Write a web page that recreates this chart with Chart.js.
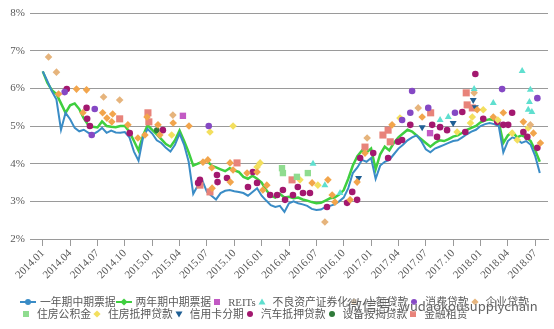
<!DOCTYPE html>
<html>
<head>
<meta charset="utf-8">
<script src="https://cdn.jsdelivr.net/npm/chart.js@4.4.1/dist/chart.umd.min.js"></script>
<style>
  html, body { margin: 0; padding: 0; background: #fff; }
  #wrap { position: relative; width: 554px; height: 329px; overflow: hidden; }
  #c { position: absolute; left: 0; top: 0; }
  #legend {
    position: absolute; left: 20px; top: 296px; width: 522px;
    display: flex; flex-wrap: wrap;
    font: 10.8px "Liberation Serif", "Noto Sans CJK SC", serif; color: #595959;
  }
  .item { display: flex; align-items: center; height: 12px; white-space: nowrap; }
  .item svg { flex: none; display: block; }
  .item span { margin-left: 5px; line-height: 12px; }
  #mark {
    position: absolute; left: 347px; top: 294px; white-space: nowrap;
    font: 15px "Noto Sans CJK SC", sans-serif; color: rgba(70, 70, 70, 0.85);
    text-shadow: 0 0 2px #fff, 0 0 2px #fff;
  }
  #mark .id { font-size: 13px; }
</style>
</head>
<body>
<div id="wrap">
  <canvas id="c" width="554" height="329"></canvas>
  <div id="legend"></div>
  <div id="mark">微信号: <span class="id">wudaokousupplychain</span></div>
</div>
<script>
// ---- axis ticks (quarterly) ----
const tickMonths = [0, 3, 6, 9, 12, 15, 18, 21, 24, 27, 30, 33, 36, 39, 42, 45, 48, 51, 54];
const tickLabels = ['2014.01', '2014.04', '2014.07', '2014.10', '2015.01', '2015.04', '2015.07', '2015.10',
  '2016.01', '2016.04', '2016.07', '2016.10', '2017.01', '2017.04', '2017.07', '2017.10',
  '2018.01', '2018.04', '2018.07'];

// ---- medium-term note yields, semi-monthly (1st and 16th), Jan 2014 - Jul 2018, % ----
const mtn1y = [
  6.45, 6.20, 5.92, 5.70, 4.90, 5.35, 5.18, 4.95, 4.86, 4.90,
  4.82, 4.78, 4.85, 4.95, 4.82, 4.88, 4.83, 4.82, 4.84, 4.70,
  4.32, 4.08, 4.70, 4.92, 4.80, 4.62, 4.55, 4.42, 4.32, 4.50,
  4.80, 4.50, 4.05, 3.20, 3.42, 3.55, 3.25, 3.15, 3.05, 3.22,
  3.28, 3.30, 3.27, 3.25, 3.22, 3.15, 3.25, 3.35, 3.15, 3.02,
  2.90, 2.85, 2.88, 2.72, 2.95, 3.00, 2.95, 2.92, 2.88, 2.80,
  2.77, 2.78, 2.85, 2.88, 2.92, 3.00, 3.10, 3.35, 3.75, 3.90,
  4.10, 4.05, 4.15, 3.60, 3.95, 4.05, 4.10, 4.25, 4.40, 4.50,
  4.62, 4.70, 4.75, 4.60, 4.38, 4.30, 4.40, 4.45, 4.50, 4.55,
  4.60, 4.62, 4.70, 4.78, 4.85, 4.90, 5.00, 5.05, 5.08, 5.05,
  5.00, 4.30, 4.60, 4.70, 4.65, 4.55, 4.60, 4.50, 4.20, 3.75
];
const mtn2y = [
  6.45, 6.15, 5.95, 5.85, 5.60, 5.35, 5.55, 5.60, 5.45, 5.20,
  5.02, 4.98, 4.96, 5.12, 5.00, 4.98, 4.97, 5.00, 5.00, 4.85,
  4.60, 4.35, 4.75, 5.02, 4.90, 4.78, 4.65, 4.52, 4.45, 4.62,
  4.88, 4.60, 4.30, 3.95, 4.00, 4.05, 4.08, 3.95, 3.90, 3.85,
  3.80, 3.88, 3.82, 3.78, 3.65, 3.60, 3.68, 3.60, 3.50, 3.30,
  3.15, 3.10, 3.20, 3.10, 3.12, 3.08, 3.10, 3.05, 3.02, 2.98,
  2.95, 2.96, 3.02, 3.08, 3.10, 3.18, 3.30, 3.60, 3.95, 4.20,
  4.35, 4.30, 4.40, 3.85, 4.25, 4.45, 4.35, 4.55, 4.70, 4.80,
  4.90, 4.85, 4.75, 4.65, 4.55, 4.45, 4.55, 4.62, 4.60, 4.65,
  4.72, 4.75, 4.82, 4.90, 4.95, 5.00, 5.10, 5.15, 5.18, 5.15,
  5.10, 4.55, 4.75, 4.85, 4.70, 4.75, 4.70, 4.60, 4.35, 4.05
];

// ---- ABS issue rates by asset class: issue dates and coupon, % ----
const reitsDates = ['2015-04-12', '2017-07-15'];
const reitsValues = [5.27, 4.81];

const nplDates = ['2016-06-20', '2016-07-29', '2016-09-19', '2017-08-18', '2017-09-15', '2017-12-10',
  '2018-02-13', '2018-05-18', '2018-06-08', '2018-06-12', '2018-06-15', '2018-06-20'];
const nplValues = [4.00, 3.43, 3.22, 5.16, 5.24, 5.98, 5.61, 6.46, 5.43, 5.64, 5.96, 5.37];

const microDates = ['2014-02-23', '2014-04-22', '2014-05-13', '2014-05-25', '2014-07-18', '2014-08-02',
  '2014-08-18', '2014-08-21', '2014-10-11', '2014-11-14', '2014-12-07', '2014-12-14', '2015-01-20',
  '2015-01-26', '2015-03-10', '2015-05-02', '2015-06-18', '2015-07-04', '2015-07-17', '2015-07-18',
  '2015-09-17', '2015-09-18', '2015-09-27', '2015-11-13', '2015-12-16', '2016-01-05', '2016-01-18',
  '2016-06-17', '2016-08-09', '2016-08-23', '2016-09-02', '2016-10-22', '2016-11-15', '2016-12-11',
  '2017-03-10', '2017-06-19', '2017-12-20', '2018-02-13', '2018-03-16', '2018-05-22', '2018-06-25',
  '2018-07-18'];
const microValues = [5.85, 5.98, 5.35, 5.96, 5.35, 5.21, 5.11, 5.32, 5.03, 4.68, 4.76, 5.24, 5.03,
  4.76, 5.08, 5.00, 4.04, 4.10, 3.89, 3.35, 4.02, 3.51, 3.83, 3.75, 3.78, 3.30, 3.43, 3.49, 3.57,
  3.17, 2.98, 3.04, 3.51, 4.28, 5.03, 5.24, 5.43, 5.24, 5.35, 5.11, 4.81, 4.55];

const consumerDates = ['2014-03-13', '2014-06-12', '2014-06-22', '2015-07-07', '2017-04-13', '2017-05-10',
  '2017-05-16', '2017-07-09', '2017-10-07', '2018-03-12', '2018-07-08'];
const consumerValues = [5.90, 4.76, 5.45, 5.00, 5.16, 5.35, 5.93, 5.48, 5.35, 5.98, 5.74];

const corpDates = ['2014-01-20', '2014-02-16', '2014-07-21', '2014-09-14', '2015-03-09', '2016-07-29',
  '2016-12-18', '2017-06-06', '2017-12-10', '2018-06-15'];
const corpValues = [6.83, 6.43, 5.77, 5.69, 5.29, 2.45, 4.68, 5.48, 5.88, 5.03];

const hpfDates = ['2016-03-08', '2016-03-11', '2016-04-27', '2016-06-03'];
const hpfValues = [3.88, 3.75, 3.65, 3.75];

const rmbsDates = ['2015-03-05', '2015-07-11', '2015-09-27', '2015-12-16', '2015-12-26', '2016-05-07',
  '2016-07-06', '2017-04-06', '2017-10-14', '2017-11-28', '2017-12-04', '2018-01-10', '2018-02-28',
  '2018-04-15', '2018-05-02', '2018-06-08'];
const rmbsValues = [4.76, 4.84, 5.00, 3.91, 4.02, 3.57, 3.43, 5.21, 4.84, 5.08, 5.24, 5.43, 5.16,
  4.81, 4.63, 4.95];

const cardDates = ['2016-11-20', '2017-06-19', '2017-10-01', '2017-12-07', '2017-12-14'];
const cardValues = [3.62, 4.97, 5.08, 5.69, 5.50];

const autoDates = ['2014-03-20', '2014-05-25', '2014-05-27', '2014-06-06', '2014-10-17', '2015-02-06',
  '2015-06-02', '2015-06-08', '2015-08-04', '2015-08-06', '2015-09-07', '2015-11-16', '2015-12-02',
  '2015-12-16', '2016-01-29', '2016-02-22', '2016-03-11', '2016-03-18', '2016-04-14', '2016-04-30',
  '2016-05-17', '2016-06-10', '2016-08-06', '2016-10-12', '2016-10-29', '2016-11-15', '2016-11-25',
  '2017-01-08', '2017-02-27', '2017-03-30', '2017-04-13', '2017-05-10', '2017-07-22', '2017-08-08',
  '2017-08-18', '2017-09-11', '2017-11-01', '2017-11-11', '2017-12-14', '2018-01-10', '2018-02-26',
  '2018-03-16', '2018-04-02', '2018-04-15', '2018-05-22', '2018-06-05', '2018-07-08'];
const autoValues = [5.98, 5.48, 5.19, 5.00, 4.81, 4.89, 3.49, 3.57, 3.70, 3.51, 3.62, 3.38, 3.78,
  3.49, 3.17, 3.17, 3.30, 3.04, 3.17, 3.38, 3.22, 3.22, 2.85, 2.96, 3.25, 3.04, 4.15, 4.28, 4.15,
  4.58, 4.63, 5.03, 5.03, 4.71, 4.97, 4.89, 5.37, 4.84, 6.38, 5.19, 5.11, 5.03, 5.03, 5.35, 4.84,
  4.71, 4.42];

const equipDates = ['2015-01-16'];
const equipValues = [4.89];

const leaseDates = ['2014-09-14', '2014-12-17', '2014-12-20', '2015-06-08', '2015-07-11', '2015-10-10',
  '2016-04-11', '2016-12-11', '2017-02-10', '2017-02-27', '2017-03-04', '2017-07-17', '2017-11-14',
  '2017-11-17', '2017-12-04'];
const leaseValues = [5.19, 5.35, 5.11, 3.43, 3.25, 4.02, 3.57, 4.44, 4.76, 4.89, 4.58, 5.35, 5.88,
  5.56, 5.48];

// months elapsed since 2014-01-01
function toMonths(d) {
  const [y, m, day] = d.split('-').map(Number);
  return (y - 2014) * 12 + (m - 1) + (day - 1) / 30;
}
function pairs(dates, values) {
  return dates.map((d, i) => ({ x: toMonths(d), y: values[i] }));
}
function linePoints(values) {
  return values.map((v, i) => ({ x: i * 0.5, y: v }));
}

function lineSet(label, values, color, marker, width) {
  return {
    label, data: linePoints(values), showLine: true, borderColor: color, backgroundColor: color,
    borderWidth: width, pointRadius: 0, tension: 0, order: 2, legendMarker: marker
  };
}
function dotSet(label, dates, values, color, style, radius, rotation) {
  return {
    label, data: pairs(dates, values), showLine: false, pointStyle: style, pointRadius: radius,
    pointRotation: rotation || 0, backgroundColor: color, borderColor: color, pointBorderWidth: 0,
    order: 1
  };
}

const datasets = [
  lineSet('一年期中期票据', mtn1y, '#3a8cc6', 'circle', 2),
  lineSet('两年期中期票据', mtn2y, '#3fcf3f', 'rectRot', 2.5),
  dotSet('REITs', reitsDates, reitsValues, '#c25ac4', 'rect', 4.5),
  dotSet('不良资产证券化', nplDates, nplValues, '#5fdfcf', 'triangle', 4),
  dotSet('小额贷款', microDates, microValues, '#f2a54c', 'rectRot', 3.8),
  dotSet('消费贷款', consumerDates, consumerValues, '#8548c4', 'circle', 3.3),
  dotSet('企业贷款', corpDates, corpValues, '#e6b47c', 'rectRot', 3.8),
  dotSet('住房公积金', hpfDates, hpfValues, '#8fdc8f', 'rect', 4.5),
  dotSet('住房抵押贷款', rmbsDates, rmbsValues, '#f3df5e', 'rectRot', 3.8),
  dotSet('信用卡分期', cardDates, cardValues, '#1f5f94', 'triangle', 4, 180),
  dotSet('汽车抵押贷款', autoDates, autoValues, '#a3186f', 'circle', 3.3),
  dotSet('设备按揭贷款', equipDates, equipValues, '#2f7a3a', 'circle', 2.8),
  dotSet('金融租赁', leaseDates, leaseValues, '#e8837a', 'rect', 5)
];

const tickFont = { family: "'Liberation Serif', serif", size: 11 };

new Chart(document.getElementById('c'), {
  type: 'scatter',
  data: { datasets },
  options: {
    responsive: false,
    animation: false,
    devicePixelRatio: 1,
    layout: { padding: { top: 13, right: 6, left: 0, bottom: 0 } },
    plugins: { legend: { display: false }, tooltip: { enabled: false } },
    scales: {
      x: {
        type: 'linear', min: -1.4, max: 55.4,
        afterBuildTicks: s => { s.ticks = tickMonths.map(v => ({ value: v })); },
        afterFit: s => { s.height = 90; },
        grid: { drawOnChartArea: false, drawTicks: true, tickLength: 7, color: '#9a9a9a' },
        border: { display: true, color: '#9a9a9a' },
        ticks: {
          autoSkip: false, minRotation: 45, maxRotation: 45, padding: 1,
          font: tickFont, color: '#595959',
          callback: v => tickLabels[tickMonths.indexOf(v)]
        }
      },
      y: {
        min: 2, max: 8,
        afterFit: s => { s.width = 30; },
        grid: { color: '#9a9a9a', drawTicks: false },
        border: { display: false },
        ticks: { stepSize: 1, padding: 5, font: tickFont, color: '#595959', callback: v => v + '%' }
      }
    }
  }
});

// ---- legend ----
function iconSvg(ds) {
  const isLine = ds.showLine;
  const w = isLine ? 16 : 12, h = 12, cx = w / 2, cy = 6;
  const col = isLine ? ds.borderColor : ds.backgroundColor;
  const style = isLine ? ds.legendMarker : ds.pointStyle;
  const down = ds.pointRotation === 180;
  let s = '';
  if (isLine) s += `<line x1="0" y1="${cy}" x2="${w}" y2="${cy}" stroke="${col}" stroke-width="2"/>`;
  if (style === 'circle') s += `<circle cx="${cx}" cy="${cy}" r="3" fill="${col}"/>`;
  else if (style === 'rectRot') s += `<polygon points="${cx},${cy - 3.6} ${cx + 3.6},${cy} ${cx},${cy + 3.6} ${cx - 3.6},${cy}" fill="${col}"/>`;
  else if (style === 'rect') s += `<rect x="${cx - 3}" y="${cy - 3}" width="6" height="6" fill="${col}"/>`;
  else if (style === 'triangle') {
    s += down
      ? `<polygon points="${cx},${cy + 3.5} ${cx + 3.5},${cy - 2.5} ${cx - 3.5},${cy - 2.5}" fill="${col}"/>`
      : `<polygon points="${cx},${cy - 3.5} ${cx + 3.5},${cy + 2.5} ${cx - 3.5},${cy + 2.5}" fill="${col}"/>`;
  }
  return `<svg width="${w}" height="${h}" viewBox="0 0 ${w} ${h}">${s}</svg>`;
}
const legend = document.getElementById('legend');
datasets.forEach(ds => {
  const item = document.createElement('div');
  item.className = 'item';
  item.innerHTML = iconSvg(ds) + `<span>${ds.label}</span>`;
  if (ds.showLine) item.querySelector('span').style.marginLeft = '4px';
  legend.appendChild(item);
});
</script>
</body>
</html>
